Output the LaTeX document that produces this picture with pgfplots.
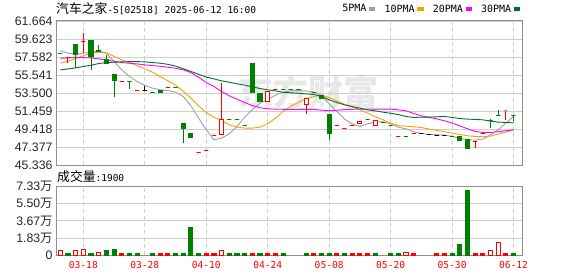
\documentclass[border=0pt]{standalone}
\usepackage{fontspec}
\usepackage{pgfplots}
\usepackage{pgfplotstable}
\pgfplotsset{compat=1.18}
\setmainfont{Liberation Sans}
\newfontfamily\cjk{Noto Sans CJK SC}
\newfontfamily\mono{DejaVu Sans Mono}
\definecolor{cgreen}{RGB}{0,128,0}
\definecolor{cred}{RGB}{255,0,0}
\definecolor{ma5}{RGB}{160,160,160}
\definecolor{ma10}{RGB}{240,165,0}
\definecolor{ma20}{RGB}{255,0,255}
\definecolor{ma30}{RGB}{0,110,45}
\definecolor{gridc}{RGB}{206,206,206}
\definecolor{framec}{RGB}{144,144,144}

\newcommand\candle[7]{%
  \pgfmathsetmacro\cL{#1-0.27}\pgfmathsetmacro\cR{#1+0.27}%
  \edef\temp{%
    \noexpand\addplot[draw=#6, line width=1pt, forget plot] coordinates {(#1,#4) (#1,#3)};%
    \noexpand\addplot[draw=#6, fill=#7, line width=1pt, forget plot] coordinates {(\cL,#2) (\cR,#2) (\cR,#5) (\cL,#5)} -- cycle;%
  }\temp}
\newcommand\dash[3]{\candle{#1}{#2}{#2}{#2}{#2}{#3}{#3}}
\newcommand\vbar[4]{%
  \pgfmathsetmacro\cL{#1-0.27}\pgfmathsetmacro\cR{#1+0.27}%
  \edef\temp{%
    \noexpand\addplot[draw=#3, fill=#4, line width=1pt, forget plot] coordinates {(\cL,0) (\cR,0) (\cR,#2) (\cL,#2)} -- cycle;%
  }\temp}

\pgfplotstableread{
i v
0 58.31
1 58.01
2 57.89
3 58.01
4 58.12
5 58.27
6 58.01
7 57.06
8 56.12
9 55.37
10 54.80
11 54.38
12 54.05
13 53.86
14 53.78
15 53.60
16 53.10
17 52.05
18 50.65
19 49.33
20 48.20
21 48.39
22 48.88
23 49.71
24 50.76
25 51.59
26 52.35
27 52.73
28 53.25
29 53.59
30 53.74
31 53.78
32 53.74
33 53.59
34 53.25
35 52.27
36 51.40
37 50.54
38 50.01
39 49.71
40 50.01
41 50.20
42 50.24
43 50.01
44 49.63
45 49.44
46 49.11
47 48.92
48 48.80
49 48.77
50 48.73
51 48.58
52 48.35
53 48.20
54 48.16
55 48.27
56 48.77
57 49.33
58 50.09
59 50.85
}\maA
\pgfplotstableread{
i v
0 56.87
1 57.10
2 57.40
3 57.74
4 58.01
5 58.12
6 58.04
7 57.67
8 57.25
9 56.95
10 56.61
11 56.23
12 55.86
13 55.37
14 54.88
15 54.40
16 53.70
17 52.91
18 52.05
19 51.29
20 50.76
21 50.39
22 49.90
23 49.63
24 49.52
25 49.52
26 49.63
27 50.01
28 50.65
29 51.40
30 52.00
31 52.45
32 52.85
33 53.10
34 53.25
35 52.99
36 52.61
37 52.24
38 51.90
39 51.59
40 51.22
41 50.80
42 50.46
43 50.09
44 49.80
45 49.75
46 49.67
47 49.59
48 49.41
49 49.26
50 49.11
51 48.95
52 48.80
53 48.65
54 48.58
55 48.54
56 48.61
57 48.84
58 49.07
59 49.29
}\maB
\pgfplotstableread{
i v
0 57.44
1 57.48
2 57.52
3 57.52
4 57.48
5 57.37
6 57.25
7 57.10
8 56.95
9 56.87
10 56.80
11 56.69
12 56.61
13 56.53
14 56.42
15 56.31
16 56.12
17 55.82
18 55.29
19 54.69
20 54.24
21 53.67
22 53.18
23 52.80
24 52.42
25 52.08
26 51.82
27 51.71
28 51.67
29 51.65
30 51.65
31 51.65
32 51.65
33 51.65
34 51.55
35 51.50
36 51.55
37 51.62
38 51.65
39 51.67
40 51.67
41 51.67
42 51.67
43 51.67
44 51.59
45 51.48
46 51.18
47 50.91
48 50.73
49 50.57
50 50.35
51 50.09
52 49.78
53 49.44
54 49.14
55 49.03
56 49.03
57 49.11
58 49.22
59 49.33
}\maC
\pgfplotstableread{
i v
0 56.12
1 56.23
2 56.35
3 56.50
4 56.65
5 56.84
6 56.95
7 56.99
8 57.03
9 57.06
10 57.06
11 57.03
12 56.95
13 56.88
14 56.75
15 56.55
16 56.25
17 55.95
18 55.62
19 55.30
20 55.10
21 54.88
22 54.73
23 54.54
24 54.39
25 54.20
26 54.01
27 53.86
28 53.74
29 53.59
30 53.52
31 53.48
32 53.40
33 53.33
34 53.10
35 52.73
36 52.42
37 52.16
38 51.97
39 51.78
40 51.59
41 51.48
42 51.33
43 51.20
44 51.05
45 50.85
46 50.72
47 50.76
48 50.76
49 50.80
50 50.84
51 50.73
52 50.61
53 50.54
54 50.50
55 50.46
56 50.31
57 50.20
58 50.16
59 50.12
}\maD

\begin{document}
\begin{tikzpicture}[x=1pt,y=1pt]
\path[use as bounding box] (0,0) rectangle (578,276);
% watermark
\node[anchor=west, inner sep=0pt, text=black!9] at (238,184) {\cjk\bfseries\fontsize{35}{35}\selectfont 东方财富};

\begin{axis}[
  at={(56pt,111pt)}, anchor=south west, scale only axis,
  width=466pt, height=144pt,
  xmin=-0.56, xmax=60.1, ymin=45.336, ymax=61.664,
  xtick={3,11,19,27,35,43,51,59}, xticklabels={},
  ytick={45.336,47.377,49.418,51.459,53.5,55.541,57.582,59.623,61.664},
  yticklabels={45.336,47.377,49.418,51.459,53.500,55.541,57.582,59.623,61.664},
  major tick length=0pt,
  xmajorgrids, ymajorgrids,
  x grid style={gridc, line width=0.8pt, dash pattern=on 4pt off 3pt},
  y grid style={gridc, line width=0.8pt},
  axis line style={framec, line width=1pt},
  yticklabel style={font=\fontsize{12.3}{14}\selectfont, text=black!85, inner sep=0pt, anchor=east, xshift=-3.3pt},
  legend plot pos=right,
  legend columns=4,
  legend image code/.code={\fill[#1] (0pt,-1.6pt) rectangle (5.4pt,1.6pt);},
  legend style={draw=none, fill=none, inner sep=0pt, outer sep=0pt,
    font=\mono\fontsize{10}{12}\selectfont,
    nodes={inner sep=0pt},
    /tikz/every odd column/.append style={column sep=2.6pt},
    /tikz/every even column/.append style={column sep=9.3pt},
    at={(axis description cs:0.996,1.083)}, anchor=east},
]
\addplot[ma5, line width=0.9pt] table[x=i,y=v] {\maA};
\addlegendentry{5PMA}
\addplot[ma10, line width=0.9pt] table[x=i,y=v] {\maB};
\addlegendentry{10PMA}
\addplot[ma20, line width=0.9pt] table[x=i,y=v] {\maC};
\addlegendentry{20PMA}
\addplot[ma30, line width=0.9pt] table[x=i,y=v] {\maD};
\addlegendentry{30PMA}

\dash{0}{58.01}{cgreen}
\candle{1}{57.52}{57.55}{56.88}{57.52}{cred}{cred}
\candle{2}{58.95}{59.06}{56.31}{57.89}{cgreen}{cgreen}
\candle{3}{59.33}{60.27}{58.00}{59.33}{cred}{cred}
\candle{4}{59.40}{59.40}{56.12}{57.63}{cgreen}{cgreen}
\candle{5}{58.30}{58.95}{58.15}{58.15}{cgreen}{cgreen}
\candle{6}{57.33}{57.82}{56.87}{56.87}{cgreen}{cgreen}
\candle{7}{55.55}{55.55}{53.10}{54.91}{cgreen}{cgreen}
\dash{8}{54.84}{cred}
\candle{9}{54.76}{54.76}{54.01}{54.76}{cgreen}{cgreen}
\dash{10}{53.82}{cred}
\candle{11}{53.82}{54.35}{53.82}{53.82}{black}{black}
\dash{12}{53.52}{cgreen}
\candle{13}{53.78}{53.78}{53.56}{53.56}{cgreen}{cgreen}
\dash{14}{54.16}{cred}
\dash{15}{54.16}{cgreen}
\candle{16}{50.01}{50.01}{47.82}{49.48}{cgreen}{cgreen}
\candle{17}{48.88}{48.88}{48.50}{48.50}{cgreen}{cgreen}
\dash{18}{46.80}{cred}
\dash{19}{47.03}{cred}
\dash{20}{48.73}{cred}
\candle{21}{48.84}{54.61}{48.84}{50.54}{cred}{white}
\dash{22}{50.46}{cgreen}
\dash{23}{50.46}{cgreen}
\dash{24}{49.86}{cgreen}
\candle{25}{56.80}{56.80}{53.56}{53.56}{cgreen}{cgreen}
\candle{26}{53.40}{53.40}{52.54}{52.54}{cgreen}{cgreen}
\candle{27}{52.57}{53.78}{52.57}{53.67}{cred}{white}
\dash{28}{53.93}{cred}
\dash{29}{53.93}{cgreen}
\dash{30}{53.93}{cgreen}
\dash{31}{53.93}{cgreen}
\candle{32}{52.16}{52.84}{51.11}{52.84}{cred}{white}
\dash{33}{53.60}{cgreen}
\candle{34}{53.18}{53.18}{52.88}{52.88}{cgreen}{cgreen}
\candle{35}{51.03}{51.03}{48.12}{48.95}{cgreen}{cgreen}
\dash{36}{49.86}{cred}
\dash{37}{49.44}{cred}
\dash{38}{49.86}{cred}
\candle{39}{50.09}{50.31}{50.09}{50.31}{cred}{white}
\dash{40}{50.46}{cgreen}
\candle{41}{49.78}{50.35}{49.78}{50.35}{cred}{white}
\dash{42}{50.20}{cgreen}
\dash{43}{49.86}{cgreen}
\dash{44}{48.61}{cred}
\dash{45}{48.61}{cgreen}
\dash{46}{48.95}{cred}
\dash{47}{48.95}{black}
\dash{48}{48.77}{black}
\dash{49}{48.73}{black}
\dash{50}{48.73}{black}
\dash{51}{48.60}{cgreen}
\candle{52}{48.58}{48.58}{48.13}{48.13}{cgreen}{cgreen}
\candle{53}{48.20}{48.20}{47.20}{47.20}{cgreen}{cgreen}
\candle{54}{47.95}{47.95}{47.25}{47.95}{cred}{cred}
\dash{55}{48.95}{cred}
\candle{56}{50.35}{50.54}{49.52}{50.35}{cgreen}{cgreen}
\candle{57}{51.00}{51.52}{51.00}{51.00}{cgreen}{cgreen}
\candle{58}{51.46}{51.46}{50.46}{51.46}{cred}{cred}
\candle{59}{50.95}{50.95}{50.30}{50.95}{cgreen}{cgreen}
\end{axis}

\begin{axis}[
  at={(56pt,21pt)}, anchor=south west, scale only axis,
  width=466pt, height=68.3pt,
  xmin=-0.56, xmax=60.1, ymin=0, ymax=7.33,
  xtick={3,11,19,27,35,43,51,59},
  xticklabels={03-18,03-28,04-10,04-24,05-08,05-20,05-30,06-12},
  ytick={0,1.83,3.67,5.5,7.33},
  yticklabels={0,{1.83{\cjk 万}},{3.67{\cjk 万}},{5.50{\cjk 万}},{7.33{\cjk 万}}},
  major tick length=0pt,
  xmajorgrids, ymajorgrids,
  x grid style={gridc, line width=0.8pt, dash pattern=on 4pt off 3pt},
  y grid style={gridc, line width=0.8pt},
  axis line style={framec, line width=1pt},
  yticklabel style={font=\fontsize{12.3}{14}\selectfont, text=black!85, inner sep=0pt, anchor=east, xshift=-3.3pt},
  xticklabel style={font=\mono\fontsize{9.6}{11}\selectfont, text=cred, inner sep=0pt, anchor=north, yshift=-6.5pt},
]
\vbar{0}{0.43}{cred}{white}
\vbar{1}{0.21}{cgreen}{cgreen}
\vbar{2}{0.50}{cred}{white}
\vbar{3}{0.61}{cred}{white}
\vbar{4}{0.11}{cgreen}{cgreen}
\vbar{5}{0.32}{cred}{white}
\vbar{6}{0.43}{cgreen}{cgreen}
\vbar{7}{0.54}{cgreen}{cgreen}
\vbar{8}{0.11}{cred}{cred}
\vbar{9}{0.21}{cgreen}{cgreen}
\vbar{10}{0.11}{cgreen}{cgreen}
\vbar{12}{0.11}{cgreen}{cgreen}
\vbar{13}{0.11}{cred}{cred}
\vbar{14}{0.11}{cred}{cred}
\vbar{15}{0.11}{cgreen}{cgreen}
\vbar{16}{0.21}{cgreen}{cgreen}
\vbar{17}{2.93}{cgreen}{cgreen}
\vbar{18}{0.11}{cgreen}{cgreen}
\vbar{19}{0.11}{cred}{cred}
\vbar{20}{0.11}{cred}{cred}
\vbar{21}{0.43}{cred}{white}
\vbar{22}{0.11}{cgreen}{cgreen}
\vbar{23}{0.11}{cgreen}{cgreen}
\vbar{24}{0.11}{cgreen}{cgreen}
\vbar{25}{0.11}{cred}{cred}
\vbar{26}{0.11}{cgreen}{cgreen}
\vbar{27}{0.11}{cred}{cred}
\vbar{28}{0.11}{cred}{cred}
\vbar{29}{0.11}{cgreen}{cgreen}
\vbar{32}{0.21}{cgreen}{cgreen}
\vbar{33}{0.11}{cred}{cred}
\vbar{34}{0.11}{cgreen}{cgreen}
\vbar{35}{0.11}{cgreen}{cgreen}
\vbar{36}{0.11}{cred}{cred}
\vbar{37}{0.11}{cgreen}{cgreen}
\vbar{38}{0.11}{cred}{cred}
\vbar{39}{0.11}{cred}{cred}
\vbar{40}{0.11}{cred}{cred}
\vbar{41}{0.11}{cgreen}{cgreen}
\vbar{43}{0.11}{cgreen}{cgreen}
\vbar{44}{0.11}{cgreen}{cgreen}
\vbar{45}{0.30}{cred}{white}
\vbar{46}{0.11}{cred}{cred}
\vbar{49}{0.11}{cred}{cred}
\vbar{50}{0.11}{cred}{cred}
\vbar{51}{0.11}{cgreen}{cgreen}
\vbar{52}{1.18}{cgreen}{cgreen}
\vbar{53}{6.87}{cgreen}{cgreen}
\vbar{54}{0.21}{cred}{cred}
\vbar{55}{0.21}{cred}{cred}
\vbar{56}{0.43}{cred}{white}
\vbar{57}{1.37}{cred}{white}
\vbar{58}{0.11}{cred}{cred}
\vbar{59}{0.19}{cgreen}{cgreen}
\end{axis}

\node[anchor=west, inner sep=0pt] at (56,267) {\cjk\fontsize{12.8}{14}\selectfont 汽车之家{\mono\fontsize{9.5}{12}\selectfont -S[02518] 2025-06-12 16:00}};
\node[anchor=west, inner sep=0pt] at (57,99) {\cjk\fontsize{12.8}{14}\selectfont 成交量{\mono\fontsize{9.5}{12}\selectfont :1900}};
\end{tikzpicture}
\end{document}
